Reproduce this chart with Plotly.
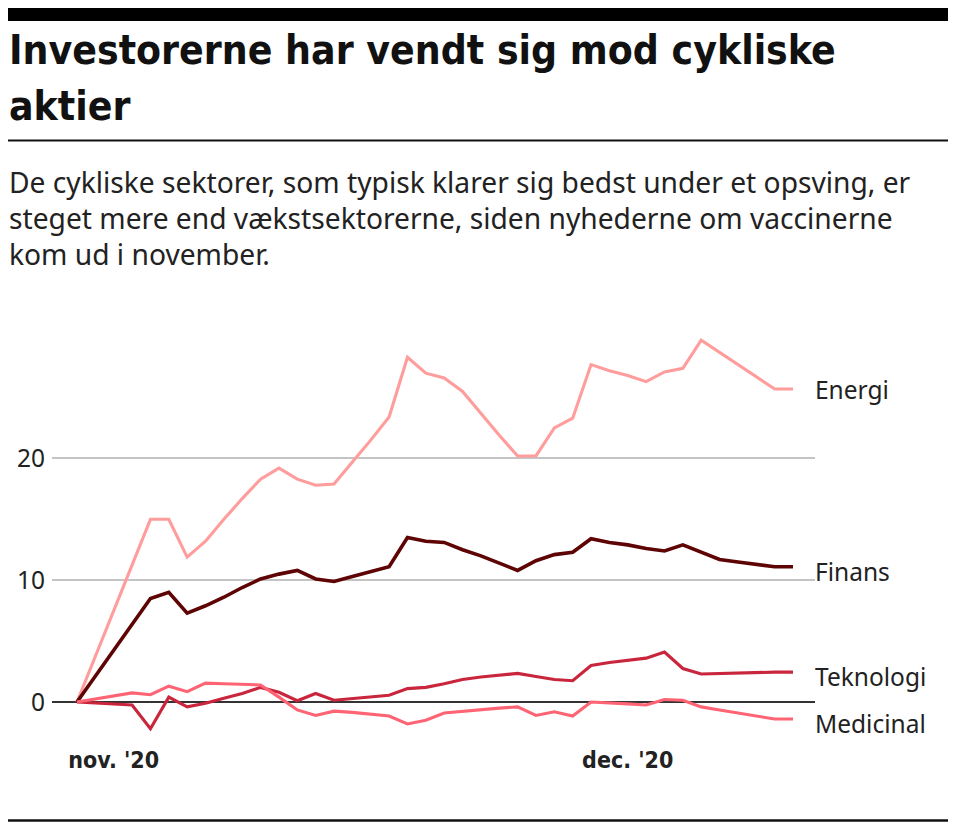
import plotly.graph_objects as go

# ---------------- data ----------------
dage = list(range(40))  # handelsdag-indeks
energi = [0, None, None, 11.2, 15.0, 15.0, 11.9, 13.2, 15.0, 16.7,
          18.3, 19.2, 18.3, 17.8, 17.9, 19.7, 21.5, 23.4, 28.3, 27.0,
          26.6, 25.5, 23.7, 21.9, 20.2, 20.2, 22.5, 23.3, 27.7, 27.2,
          26.8, 26.3, 27.1, 27.4, 29.7, 28.7, 27.7, 26.7, 25.7, 25.7]
finans = [0, None, None, 6.4, 8.5, 9.0, 7.3, 7.9, 8.6, 9.4,
          10.1, 10.5, 10.8, 10.1, 9.9, 10.3, 10.7, 11.1, 13.5, 13.2,
          13.1, 12.5, 12.0, 11.4, 10.8, 11.6, 12.1, 12.3, 13.4, 13.1,
          12.9, 12.6, 12.4, 12.9, 12.3, 11.7, 11.5, 11.3, 11.1, 11.1]
teknologi = [0, None, None, -0.25, -2.2, 0.4, -0.4, -0.1, 0.3, 0.7,
             1.2, 0.8, 0.1, 0.7, 0.15, 0.3, 0.4, 0.55, 1.1, 1.2,
             1.5, 1.85, 2.05, 2.2, 2.35, 2.1, 1.85, 1.75, 3.0, 3.25,
             3.4, 3.6, 4.1, 2.75, 2.3, 2.35, 2.4, 2.4, 2.45, 2.45]
medicinal = [0, None, None, 0.75, 0.6, 1.3, 0.85, 1.55, 1.5, 1.45,
             1.4, 0.4, -0.65, -1.1, -0.75, -0.85, -1.0, -1.15, -1.8, -1.5,
             -0.9, -0.75, -0.6, -0.5, -0.4, -1.1, -0.8, -1.15, 0.0, -0.05,
             -0.15, -0.25, 0.2, 0.15, -0.4, -0.65, -0.9, -1.15, -1.4, -1.4]

serier = ["Energi", "Finans", "Teknologi", "Medicinal"]
x_tickvals = [2, 30]
x_ticktext = ["nov. '20", "dec. '20"]
y_tickvals = [0, 10, 20]

titel_linjer = ["Investorerne har vendt sig mod cykliske", "aktier"]
undertitel_linjer = [
    "De cykliske sektorer, som typisk klarer sig bedst under et opsving, er",
    "steget mere end vækstsektorerne, siden nyhederne om vaccinerne",
    "kom ud i november.",
]

# ---------------- layout helpers ----------------
W, H = 960, 834
OFF = 8  # page body margin; targets below are given in screen pixels
L, R, T, B = 52 - OFF, 815 - OFF, 330 - OFF, 738 - OFF
zero_px = 702 - OFF
x0_px = 77 - OFF
px_per_day = (793 - 77) / 39.0
x_range = [(L - x0_px) / px_per_day, (R - x0_px) / px_per_day]
px_per_unit = 12.18
y_range = [-(B - zero_px) / px_per_unit, (zero_px - T) / px_per_unit]


def px_x(px):
    return (px - OFF - L) / (R - L)


def px_y(py):
    return (B - (py - OFF)) / (B - T)


farver = {
    "Energi": "#ff9c9c",
    "Finans": "#5e0404",
    "Teknologi": "#c9263d",
    "Medicinal": "#ff6474",
}
data = {"Energi": energi, "Finans": finans, "Teknologi": teknologi, "Medicinal": medicinal}
label_yshift = {"Energi": -1, "Finans": -5, "Teknologi": -4, "Medicinal": -4}

fig = go.Figure()
for navn in serier:
    fig.add_trace(go.Scatter(
        x=dage, y=data[navn], mode="lines", name=navn, connectgaps=True,
        line=dict(color=farver[navn], width=3.6 if navn == "Finans" else 3.1),
        showlegend=False, hoverinfo="skip",
    ))

annots = []
for navn in serier:
    vals = data[navn]
    annots.append(dict(
        x=dage[-1], y=vals[-1], xref="x", yref="y", text=navn,
        xanchor="left", yanchor="middle", xshift=20, yshift=label_yshift[navn],
        showarrow=False, font=dict(family="Noto Sans", size=24.5, color="#222222"),
    ))

title_mid = [50, 106]
for txt, py in zip(titel_linjer, title_mid):
    annots.append(dict(
        x=px_x(7), y=px_y(py), xref="paper", yref="paper", text=txt,
        xanchor="left", yanchor="middle", showarrow=False,
        font=dict(family="DejaVu Sans Condensed", size=40.5, color="#111111", weight="bold"),
    ))

sub_mid = [182, 218, 254]
for txt, py in zip(undertitel_linjer, sub_mid):
    annots.append(dict(
        x=px_x(7), y=px_y(py), xref="paper", yref="paper", text=txt,
        xanchor="left", yanchor="middle", showarrow=False,
        font=dict(family="Noto Sans", size=28.2, color="#222222"),
    ))

shapes = [
    dict(type="rect", xref="paper", yref="paper", x0=px_x(5), x1=px_x(948),
         y0=px_y(21), y1=px_y(8), fillcolor="#000000", line=dict(width=0)),
    dict(type="line", xref="paper", yref="paper", x0=px_x(5), x1=px_x(948),
         y0=px_y(140.5), y1=px_y(140.5), line=dict(color="#111111", width=2)),
    dict(type="line", xref="paper", yref="paper", x0=px_x(5), x1=px_x(948),
         y0=px_y(820.5), y1=px_y(820.5), line=dict(color="#111111", width=2.5)),
]

fig.update_layout(
    width=W, height=H,
    margin=dict(l=L, r=W - R, t=T, b=H - B, pad=0),
    paper_bgcolor="white", plot_bgcolor="white",
    annotations=annots, shapes=shapes,
    xaxis=dict(range=x_range, tickvals=x_tickvals, ticktext=x_ticktext,
               showgrid=False, zeroline=False, showline=False, ticks="",
               automargin=False,
               tickfont=dict(family="DejaVu Sans Condensed", size=23, color="#222222",
                             weight="bold"),
               ticklabelstandoff=6),
    yaxis=dict(range=y_range, tickvals=y_tickvals, showgrid=True,
               gridcolor="#c4c4c4", gridwidth=1.5, zeroline=True,
               zerolinecolor="#333333", zerolinewidth=1.6, showline=False, ticks="",
               automargin=False,
               tickfont=dict(family="Noto Sans", size=24.5, color="#222222"),
               ticklabelstandoff=6),
)

fig.write_html("out.html")
